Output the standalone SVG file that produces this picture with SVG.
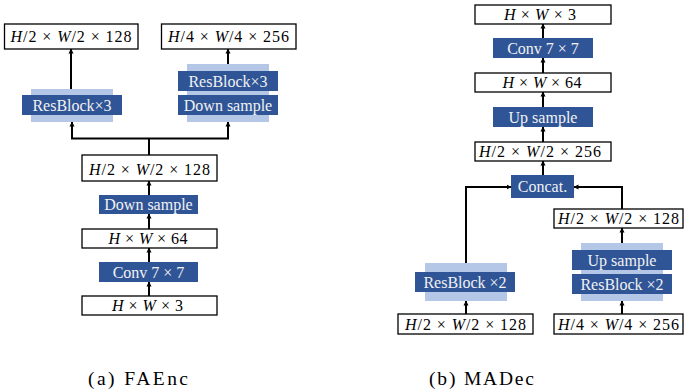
<svg xmlns="http://www.w3.org/2000/svg" width="686" height="391" viewBox="0 0 686 391">
<style>
.box{fill:#fff;stroke:#000;stroke-width:1.3}
.blk{fill:#2F5597}
.bg{fill:#B4C7E7}
.m{fill:#000;text-anchor:middle}
.b{fill:#F2F2F2;text-anchor:middle}
.cap{fill:#000;text-anchor:middle}
.c{fill:none;stroke:#000;stroke-width:2}
.a{fill:none;stroke:#000;stroke-width:2;marker-end:url(#ah)}
</style>
<defs>
<marker id="ah" viewBox="0 0 10 10" refX="9" refY="5" markerWidth="5" markerHeight="6" markerUnits="userSpaceOnUse" orient="auto">
<path d="M0,0 L10,5 L0,10 z" fill="#000"/>
</marker>
</defs>

<!-- FAEnc -->
<g id="enc_out1"><rect class="box" x="4.5" y="24" width="133.5" height="25"/>
<text class="m" font-family="Liberation Serif" font-size="16" x="71" y="42" textLength="121"><tspan font-style="italic">H</tspan>/2 × <tspan font-style="italic">W</tspan>/2 × 128</text></g>
<g id="enc_out2"><rect class="box" x="161.5" y="24" width="134.5" height="25"/>
<text class="m" font-family="Liberation Serif" font-size="16" x="228.5" y="42" textLength="121"><tspan font-style="italic">H</tspan>/4 × <tspan font-style="italic">W</tspan>/4 × 256</text></g>
<g id="enc_res3a"><rect class="bg" x="31" y="89" width="82" height="33"/>
<rect class="blk" x="22" y="95" width="100" height="20"/>
<text class="b" font-family="Liberation Serif" font-size="16" x="72" y="110.5">ResBlock×3</text></g>
<g id="enc_res3b"><rect class="bg" x="187" y="64" width="82" height="58"/>
<rect class="blk" x="178" y="71" width="100" height="20"/>
<text class="b" font-family="Liberation Serif" font-size="16" x="228" y="86.5">ResBlock×3</text>
<rect class="blk" x="178" y="95" width="100" height="20"/>
<text class="b" font-family="Liberation Serif" font-size="16" x="228" y="110.5">Down sample</text></g>
<g id="enc_feat128"><rect class="box" x="82" y="155" width="135" height="26"/>
<text class="m" font-family="Liberation Serif" font-size="16" x="149.5" y="174.5" textLength="121"><tspan font-style="italic">H</tspan>/2 × <tspan font-style="italic">W</tspan>/2 × 128</text></g>
<g id="enc_down"><rect class="blk" x="99" y="195" width="99" height="19"/>
<text class="b" font-family="Liberation Serif" font-size="16" x="148.5" y="210">Down sample</text></g>
<g id="enc_feat64"><rect class="box" x="82" y="229" width="135" height="19"/>
<text class="m" font-family="Liberation Serif" font-size="16" x="148" y="244" textLength="79"><tspan font-style="italic">H</tspan> × <tspan font-style="italic">W</tspan> × 64</text></g>
<g id="enc_conv"><rect class="blk" x="99" y="262" width="99" height="20"/>
<text class="b" font-family="Liberation Serif" font-size="16" x="148.5" y="277.5">Conv 7 × 7</text></g>
<g id="enc_in"><rect class="box" x="82" y="296" width="135" height="19"/>
<text class="m" font-family="Liberation Serif" font-size="16" x="147.5" y="311" textLength="71"><tspan font-style="italic">H</tspan> × <tspan font-style="italic">W</tspan> × 3</text></g>

<!-- MADec -->
<g id="dec_out"><rect class="box" x="475" y="5" width="136" height="19"/>
<text class="m" font-family="Liberation Serif" font-size="16" x="540" y="20" textLength="72"><tspan font-style="italic">H</tspan> × <tspan font-style="italic">W</tspan> × 3</text></g>
<g id="dec_conv"><rect class="blk" x="493" y="38" width="100" height="20"/>
<text class="b" font-family="Liberation Serif" font-size="16" x="543" y="53.5">Conv 7 × 7</text></g>
<g id="dec_feat64"><rect class="box" x="475" y="73" width="136" height="19"/>
<text class="m" font-family="Liberation Serif" font-size="16" x="542" y="88" textLength="79"><tspan font-style="italic">H</tspan> × <tspan font-style="italic">W</tspan> × 64</text></g>
<g id="dec_up"><rect class="blk" x="493" y="107" width="100" height="20"/>
<text class="b" font-family="Liberation Serif" font-size="16" x="543" y="122.5">Up sample</text></g>
<g id="dec_feat256"><rect class="box" x="475" y="142" width="136" height="19"/>
<text class="m" font-family="Liberation Serif" font-size="16" x="540" y="157" textLength="122"><tspan font-style="italic">H</tspan>/2 × <tspan font-style="italic">W</tspan>/2 × 256</text></g>
<g id="dec_concat"><rect class="blk" x="511" y="175" width="63" height="23"/>
<text class="b" font-family="Liberation Serif" font-size="16" x="542.5" y="192">Concat.</text></g>
<g id="dec_feat128r"><rect class="box" x="554" y="209" width="129" height="19"/>
<text class="m" font-family="Liberation Serif" font-size="16" x="618.5" y="224" textLength="121"><tspan font-style="italic">H</tspan>/2 × <tspan font-style="italic">W</tspan>/2 × 128</text></g>
<g id="dec_res2r"><rect class="bg" x="581" y="243" width="82" height="58"/>
<rect class="blk" x="572" y="250" width="100" height="20"/>
<text class="b" font-family="Liberation Serif" font-size="16" x="622" y="265.5">Up sample</text>
<rect class="blk" x="572" y="274" width="100" height="20"/>
<text class="b" font-family="Liberation Serif" font-size="16" x="622" y="289.5">ResBlock ×2</text></g>
<g id="dec_res2l"><rect class="bg" x="425" y="263" width="82" height="38"/>
<rect class="blk" x="415" y="272" width="100" height="20"/>
<text class="b" font-family="Liberation Serif" font-size="16" x="465" y="287.5">ResBlock ×2</text></g>
<g id="dec_in128"><rect class="box" x="398" y="314" width="135" height="20"/>
<text class="m" font-family="Liberation Serif" font-size="16" x="465.5" y="329.5" textLength="121"><tspan font-style="italic">H</tspan>/2 × <tspan font-style="italic">W</tspan>/2 × 128</text></g>
<g id="dec_in256"><rect class="box" x="554" y="314" width="129" height="20"/>
<text class="m" font-family="Liberation Serif" font-size="16" x="618.5" y="329.5" textLength="121"><tspan font-style="italic">H</tspan>/4 × <tspan font-style="italic">W</tspan>/4 × 256</text></g>

<g id="connectors">
<path class="a" d="M149,296 V282"/>
<path class="a" d="M149,262 V248"/>
<path class="a" d="M149,229 V214"/>
<path class="a" d="M149,195 V181"/>
<path class="c" d="M149,155 V138.5"/>
<path class="c" d="M71,138.5 H229"/>
<path class="a" d="M72,138.5 V122"/>
<path class="a" d="M228,138.5 V122"/>
<path class="a" d="M71,89 V49"/>
<path class="a" d="M228,64 V49"/>
<path class="a" d="M543,38 V24"/>
<path class="a" d="M543,73 V58"/>
<path class="a" d="M543,107 V92"/>
<path class="a" d="M543,142 V127"/>
<path class="a" d="M543,175 V161"/>
<path class="a" d="M466,263 V187 H511"/>
<path class="a" d="M622,209 V187 H574"/>
<path class="a" d="M622,243 V228"/>
<path class="a" d="M466,314 V301"/>
<path class="a" d="M622,314 V301"/>
</g>

<text class="cap" font-family="Liberation Serif" font-size="19.5" x="138" y="385" textLength="100">(a) FAEnc</text>
<text class="cap" font-family="Liberation Serif" font-size="19.5" x="481.5" y="385" textLength="105">(b) MADec</text>
</svg>
